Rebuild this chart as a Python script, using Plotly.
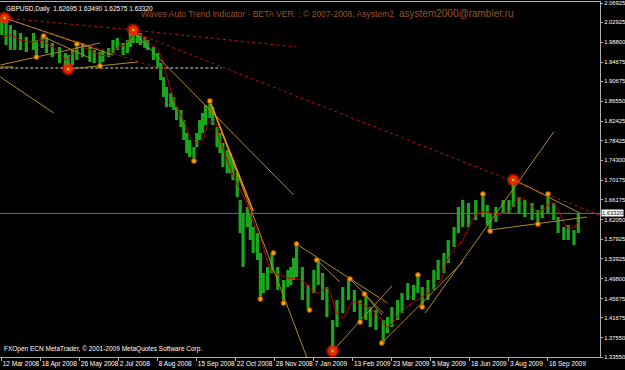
import plotly.graph_objects as go

# ---------------- data (bar index = trading day since 12 Mar 2008) ----------------
bar_idx = [0,3,6,9,13,17,22,24,28,31,35,40,44,46,49,52,56,61,64,68,70,74,77,80,84,87,89,91,94,96,99,101,
           105,108,110,112,114,117,119,121,124,126,128,130,133,135,137,139,141,144,146,149,151,153,156,158,
           160,163,165,167,170,172,174,177,179,181,184,187,191,195,198,200,202,204,208,212,216,219,222,225,
           229,232,236,240,244,248,252,255,259,264,267,270,274,277,281,285,288,291,295,299,302,306,309,313,
           316,319,323,328,333,336,338,342,347,351,354,358,362,367,371,374,378,382,385,389,392,396,399]
bar_high = [2.0382,2.0299,2.0237,2.0134,2.0071,1.9989,2.0071,1.9926,2.0009,1.9989,1.9864,1.9781,1.9657,1.9615,
            1.9719,1.9843,1.9864,1.9781,1.9719,1.9678,1.9719,1.9760,1.9926,1.9968,1.9864,1.9926,2.0071,2.0134,
            2.0071,2.0071,1.9989,1.9926,1.9781,1.9657,1.9450,1.9160,1.8952,1.8828,1.8745,1.8537,1.8475,1.8268,
            1.7998,1.7853,1.7708,1.7998,1.8268,1.8413,1.8579,1.8661,1.8537,1.8123,1.7998,1.7791,1.7646,1.7584,
            1.7439,1.7169,1.6610,1.6340,1.6464,1.6340,1.6050,1.5925,1.5511,1.5096,1.5221,1.5511,1.5221,1.4951,
            1.5158,1.5221,1.5407,1.5697,1.5221,1.4848,1.5158,1.5366,1.5096,1.4806,1.4122,1.4536,1.4806,1.4972,
            1.4744,1.4536,1.4640,1.4391,1.4329,1.4122,1.4184,1.4391,1.4536,1.4682,1.4889,1.4848,1.5055,1.4806,
            1.4951,1.5158,1.5366,1.5511,1.5780,1.6050,1.6464,1.6610,1.6548,1.6610,1.6734,1.6506,1.6340,1.6464,
            1.6610,1.6610,1.7024,1.6672,1.6610,1.6548,1.6402,1.6506,1.6734,1.6548,1.6257,1.6050,1.6092,1.5988,1.6340]
bar_low = [2.0030,1.9823,1.9719,1.9719,1.9719,1.9678,1.9719,1.9574,1.9760,1.9657,1.9574,1.9450,1.9387,1.9325,
           1.9408,1.9512,1.9574,1.9470,1.9450,1.9387,1.9470,1.9574,1.9657,1.9719,1.9615,1.9657,1.9781,1.9864,
           1.9864,1.9823,1.9760,1.9719,1.9512,1.9367,1.9097,1.8745,1.8537,1.8537,1.8475,1.8268,1.8123,1.7853,
           1.7584,1.7501,1.7418,1.7708,1.7853,1.7998,1.8164,1.8309,1.8164,1.7708,1.7584,1.7294,1.7169,1.7169,
           1.7024,1.6672,1.5925,1.5221,1.6050,1.5780,1.5511,1.5366,1.4557,1.4682,1.4744,1.5096,1.4744,1.4474,
           1.4806,1.4848,1.4951,1.5013,1.4536,1.4329,1.4682,1.4848,1.4536,1.4184,1.3479,1.3977,1.4267,1.4536,
           1.4288,1.4081,1.4122,1.3977,1.3915,1.3645,1.3852,1.3977,1.4122,1.4267,1.4536,1.4536,1.4682,1.4391,
           1.4536,1.4744,1.4951,1.5096,1.5304,1.5636,1.5925,1.6050,1.6050,1.6195,1.6257,1.6092,1.5967,1.6154,
           1.6340,1.6340,1.6464,1.6340,1.6257,1.6195,1.6112,1.6236,1.6340,1.6195,1.5925,1.5780,1.5780,1.5677,1.5925]

ma_idx = [0,6,13,22,27,33,40,45,49,54,61,68,75,80,85,91,96,101,106,110,113,117,121,126,130,135,139,144,148,151,
          156,160,165,170,174,179,184,188,193,198,207,218,225,232,236,243,253,262,267,276,285,295,304,307,312,
          319,328,335,340,345,352,356,360,366,371,376,380,384,388,392,396,399]
ma_val = [1.9968,2.0030,1.9926,1.9885,1.9926,1.9823,1.9678,1.9512,1.9657,1.9781,1.9719,1.9615,1.9615,1.9760,
          1.9823,2.0030,2.0030,1.9885,1.9781,1.9615,1.9304,1.8890,1.8537,1.8247,1.7936,1.7791,1.7853,1.8247,
          1.8185,1.7853,1.7439,1.7128,1.6817,1.6506,1.6154,1.5843,1.5324,1.5096,1.5055,1.4993,1.4951,1.4682,
          1.4785,1.4267,1.4163,1.4495,1.4391,1.4163,1.3977,1.4267,1.4495,1.4680,1.4950,1.5262,1.5550,1.5780,
          1.6299,1.6361,1.6319,1.6319,1.6402,1.6610,1.6651,1.6506,1.6361,1.6444,1.6548,1.6464,1.6195,1.6029,
          1.6050,1.6154]

# trend lines: (bar0, price0, bar1, price1)
trend_lines = [(2,2.0382,77,1.9615),(29,1.9989,61,1.9553),(-1,1.9408,68,1.9864),(46,1.9325,94,1.9470),
               (-1,1.9367,8,1.9367),(-1,1.9160,36,1.8413),(91,2.0092,202,1.6713),(144,1.8661,211,1.3355),
               (204,1.5697,267,1.4474),(218,1.5366,234,1.4910),(241,1.4972,264,1.4267),(251,1.4661,263,1.4226),
               (229,1.3479,270,1.4827),(263,1.3645,319,1.5324),(293,1.4264,382,1.8019),(355,1.7024,400,1.6340),
               (338,1.5988,405,1.6257)]
highlight_line = (144,1.8661,174,1.6382)
dashed_lines = [(2,2.0382,91,2.0134),(91,2.0134,204,1.9781),(91,2.0092,415,1.6278),(2,2.0382,110,1.9325)]
white_level = (-1,152,1.9346)

pivot_x = [29,24,52,68,133,144,179,188,195,204,213,218,241,248,251,263,288,291,333,338,371,378]
pivot_y = [2.0009,1.9574,1.9843,1.9387,1.7418,1.8661,1.4557,1.5511,1.4474,1.5697,1.4329,1.5366,1.4972,1.4081,
           1.4661,1.3645,1.5055,1.4391,1.6734,1.5967,1.6112,1.6734]
major_x = [2,46,91,229,354]
major_y = [2.0382,1.9325,2.0134,1.3479,1.7024]

last_price = 1.63320
x_tick_bars = [0,27,54,81,108,135,162,189,216,243,270,297,324,351,378]
x_tick_text = ["12 Mar 2008","18 Apr 2008","26 May 2008","2 Jul 2008","8 Aug 2008","15 Sep 2008",
               "22 Oct 2008","28 Nov 2008","7 Jan 2009","13 Feb 2009","23 Mar 2009","5 May 2009",
               "18 Jun 2009","3 Aug 2009","16 Sep 2009"]
y_tick_vals = [2.06925,2.02925,1.98800,1.94675,1.90675,1.86550,1.82425,1.78425,1.74300,1.70175,1.66175,
               1.62050,1.57925,1.53925,1.49800,1.45675,1.41675,1.37550,1.33550]
y_tick_text = ["%.5f" % v for v in y_tick_vals]

# ---------------- figure ----------------
fig = go.Figure()

fig.add_trace(go.Scatter(x=[-2, 420], y=[last_price, last_price], mode="lines",
                         line=dict(color="#6c6c7c", width=1), hoverinfo="skip"))

fig.add_trace(go.Scatter(x=[white_level[0], white_level[1]], y=[white_level[2]]*2, mode="lines",
                         line=dict(color="#d8d8d8", width=1, dash="3px,2px"), hoverinfo="skip"))

bx, by = [], []
for b, h, l in zip(bar_idx, bar_high, bar_low):
    bx += [b, b, None]
    by += [l, h, None]
fig.add_trace(go.Scatter(x=bx, y=by, mode="lines", line=dict(color="#1aa81a", width=3.2), hoverinfo="skip"))

for x0, y0, x1, y1 in dashed_lines:
    fig.add_trace(go.Scatter(x=[x0, x1], y=[y0, y1], mode="lines",
                             line=dict(color="#c01010", width=1, dash="dot"), hoverinfo="skip"))

fig.add_trace(go.Scatter(x=ma_idx, y=ma_val, mode="lines", line=dict(color="#c00000", width=1, shape="spline"),
                         hoverinfo="skip"))

for x0, y0, x1, y1 in trend_lines:
    fig.add_trace(go.Scatter(x=[x0, x1], y=[y0, y1], mode="lines",
                             line=dict(color="#b08a2a", width=1), hoverinfo="skip"))
fig.add_trace(go.Scatter(x=[highlight_line[0], highlight_line[2]], y=[highlight_line[1], highlight_line[3]],
                         mode="lines", line=dict(color="#ff8c00", width=1.5), hoverinfo="skip"))

fig.add_trace(go.Scatter(x=pivot_x, y=pivot_y, mode="markers",
                         marker=dict(size=5, color="#ffa000", line=dict(color="#8a4a00", width=1)),
                         hoverinfo="skip"))
fig.add_trace(go.Scatter(x=major_x, y=major_y, mode="markers",
                         marker=dict(size=13, color="rgba(255,40,0,0.5)", line=dict(width=0)), hoverinfo="skip"))
fig.add_trace(go.Scatter(x=major_x, y=major_y, mode="markers",
                         marker=dict(size=9, color="#ff2000", line=dict(width=0)), hoverinfo="skip"))
fig.add_trace(go.Scatter(x=major_x, y=major_y, mode="markers",
                         marker=dict(size=4, color="#ffa000", line=dict(color="#8a4a00", width=1)),
                         hoverinfo="skip"))

fig.update_layout(
    width=625, height=370, showlegend=False,
    paper_bgcolor="#000000", plot_bgcolor="#000000",
    margin=dict(l=0, r=25, t=2, b=13),
    font=dict(family="Liberation Sans, Arial, sans-serif", color="#ffffff"),
    xaxis=dict(range=[-1.2, 414], showgrid=False, zeroline=False, showline=True, mirror=True,
               linecolor="#b0b0b0", linewidth=1, ticks="outside", ticklen=3, tickcolor="#b0b0b0",
               tickvals=x_tick_bars, ticktext=x_tick_text, ticklabelposition="outside right",
               tickangle=0, automargin=False, ticklabelstandoff=0, ticklabeloverflow="allow",
               tickfont=dict(size=6.5, color="#ffffff"), fixedrange=True),
    yaxis=dict(range=[1.3355, 2.0714], side="right", showgrid=False, zeroline=False, showline=True,
               mirror=True, linecolor="#b0b0b0", linewidth=1, ticks="outside", ticklen=2, tickcolor="#b0b0b0",
               tickvals=y_tick_vals, ticktext=y_tick_text, tickfont=dict(size=5.8, color="#ffffff"),
               automargin=False, ticklabelstandoff=0, ticklabeloverflow="allow", fixedrange=True),
)

fig.add_annotation(xref="paper", yref="paper", x=0.006, y=0.997, xanchor="left", yanchor="top",
                   text="GBPUSD,Daily  1.62695 1.63490 1.62575 1.63320", showarrow=False,
                   font=dict(size=6.5, color="#ffffff"))
fig.add_annotation(xref="paper", yref="paper", x=0.232, y=0.985, xanchor="left", yanchor="top",
                   text="Waves Auto Trend Indicator - BETA VER. : © 2007-2008, Asystem2", showarrow=False,
                   font=dict(size=8.5, color="#9a5220"))
fig.add_annotation(xref="paper", yref="paper", x=0.662, y=0.99, xanchor="left", yanchor="top",
                   text="asystem2000@rambler.ru", showarrow=False, font=dict(size=10, color="#9a5220"))
fig.add_annotation(xref="paper", yref="paper", x=0.004, y=0.005, xanchor="left", yanchor="bottom",
                   text="FXOpen ECN MetaTrader, © 2001-2009 MetaQuotes Software Corp.", showarrow=False,
                   font=dict(size=6.5, color="#ffffff"))
fig.add_annotation(xref="paper", yref="y", x=1, y=last_price, xanchor="left", yanchor="middle", xshift=1,
                   text="1.63320", showarrow=False, bgcolor="#ffffff", borderpad=0,
                   font=dict(size=5.8, color="#000000"))

fig.write_html("out.html")
